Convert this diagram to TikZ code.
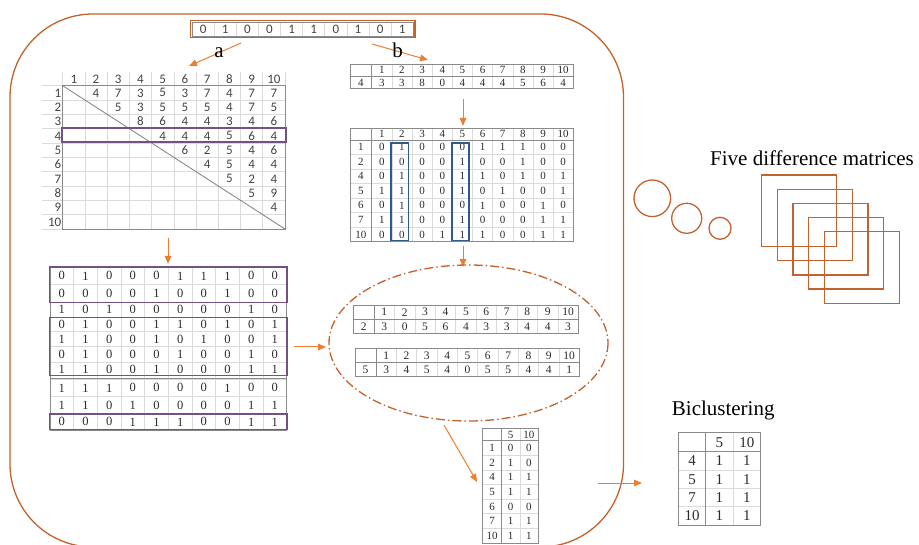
\documentclass[tikz,border=0pt]{standalone}
\usepackage{fontspec}
\setmainfont{Liberation Serif}
\newfontfamily\xlsfont{Carlito}
\usetikzlibrary{arrows.meta}

\definecolor{loopbrown}{HTML}{C2622D}
\definecolor{arroworange}{HTML}{ED7D31}
\definecolor{rowpurple}{HTML}{735283}
\definecolor{colblue}{HTML}{2F5A8F}
\definecolor{gridlight}{HTML}{DADADA}
\definecolor{framegray}{HTML}{8A8A8A}
\definecolor{digitdark}{HTML}{2B2B2B}
\definecolor{xlsgray}{HTML}{444444}

% table with a label column and a header row
% #1 left, #2 label-column edge, #3 right, #4 columns, #5 top, #6 header edge, #7 bottom, #8 rows
\newcommand{\labtable}[8]{%
  \pgfmathsetmacro\tcw{(#3-#2)/#4}%
  \pgfmathsetmacro\trh{(#7-#6)/#8}%
  \foreach \k in {1,...,#4} {\draw[grid] ({#2+\k*\tcw},#5) -- ({#2+\k*\tcw},#7);}%
  \foreach \k in {1,...,#8} {\draw[grid] (#1,{#6+\k*\trh}) -- (#3,{#6+\k*\trh});}%
  \draw[frame] (#2,#5) -- (#2,#7);%
  \draw[frame] (#1,#6) -- (#3,#6);%
  \draw[frame] (#1,#5) rectangle (#3,#7);%
}
% one row of cell entries: #1 name prefix, #2 style, #3 first centre x, #4 step, #5 y, #6 entries
\newcommand{\fillrow}[6]{%
  \edef\rowlist{#6}%
  \foreach \cellv [count=\cellk] in \rowlist {%
    \node[#2] (#1-\cellk) at ({#3+(\cellk-1)*#4},{#5}) {\cellv};}%
}

\begin{document}
\begin{tikzpicture}[x=1pt,y=-1pt,
  grid/.style={draw=gridlight, line width=0.6pt},
  frame/.style={draw=framegray, line width=0.9pt},
  xls/.style={inner sep=0pt, text=xlsgray, font=\xlsfont\fontsize{13}{15}\selectfont},
  vec/.style={inner sep=0pt, text=xlsgray, font=\xlsfont\fontsize{13}{15}\selectfont},
  serB/.style={inner sep=0pt, text=digitdark, font=\fontsize{11}{13}\selectfont},
  serC/.style={inner sep=0pt, text=digitdark, font=\fontsize{12.5}{14}\selectfont},
  serE/.style={inner sep=0pt, text=digitdark, font=\fontsize{11.5}{13}\selectfont},
  serF/.style={inner sep=0pt, text=digitdark, font=\fontsize{11}{13}\selectfont},
  serG/.style={inner sep=0pt, text=digitdark, font=\fontsize{15}{17}\selectfont},
  lab/.style={inner sep=0pt, text=black, font=\fontsize{21}{25}\selectfont},
  arr/.style={draw=arroworange, line width=1pt, -{Triangle[length=8pt,width=6.5pt]}},
  loop/.style={draw=loopbrown, line width=1.3pt},
  rowbox/.style={draw=rowpurple, line width=1.6pt},
  colbox/.style={draw=colblue, line width=1.6pt}]

\useasboundingbox (0,0) rectangle (919,545);
\clip (0,0) rectangle (919,545);
\fill[white] (0,0) rectangle (919,545);

% enclosing rounded frame
\draw[loop, rounded corners=83pt] (10,14) rectangle (623.5,547);

% binary vector on top
\foreach \k in {1,...,9} {\draw[grid] ({192+\k*22.13},22) -- ({192+\k*22.13},36);}
\draw[draw=framegray, line width=0.6pt] (192,22) rectangle (413.3,36);
\draw[loop, line width=1.4pt] (190.5,20.5) rectangle (414.8,37.5);
\fillrow{V}{vec}{203.07}{22.13}{29}{0,1,0,0,1,1,0,1,0,1}

% branch arrows a and b
\coordinate (aS) at (241,43);
\coordinate (aE) at (189,66);
\draw[arr] (aS) -- (aE);
\node[lab] (la) at (219,53) {a};
\coordinate (bS) at (372,44);
\coordinate (bE) at (428,60);
\draw[arr] (bS) -- (bE);
\node[lab] (lb) at (397.7,50.5) {b};

% triangular distance table
\foreach \k in {0,...,10} {\draw[grid] ({62.7+\k*22.23},72) -- ({62.7+\k*22.23},229);}
\foreach \k in {0,...,10} {\draw[grid] (42,{85.7+\k*14.33}) -- (285,{85.7+\k*14.33});}
\draw[frame] (62.7,85.7) rectangle (285,229);
\draw[draw=gray, line width=0.8pt] (62.7,85.7) -- (285,229);
\fillrow{A-h}{xls}{73.8}{22.23}{79}{1,2,3,4,5,6,7,8,9,10}
\foreach \r in {1,...,10} {\node[xls, anchor=east] (A-r\r) at (61.5,{85.7+(\r-0.5)*14.33}) {\r};}
\foreach \r/\vals in {1/{4,7,3,5,3,7,4,7,7},2/{5,3,5,5,5,4,7,5},3/{8,6,4,4,3,4,6},
  4/{4,4,4,5,6,4},5/{6,2,5,4,6},6/{4,5,4,4},7/{5,2,4},8/{5,9},9/{4}} {
  \fillrow{A-\r}{xls}{73.8+\r*22.23}{22.23}{85.7+(\r-0.5)*14.33}{\vals}
}
\draw[rowbox] (61.7,128.3) rectangle (286,142.3);

% arrow down to the binary matrix
\coordinate (acS) at (168,238);
\coordinate (acE) at (168,264);
\draw[arr] (acS) -- (acE);

% binary matrix
\foreach \k in {1,...,9} {\draw[grid] ({50+\k*23.67},267.3) -- ({50+\k*23.67},430);}
\foreach \yy in {284.5,302,317,331.7,346.8,362,379,396.7,413.8} {\draw[grid] (50,\yy) -- (286.7,\yy);}
\draw[frame] (50,267.3) rectangle (286.7,430);
\draw[frame] (50,378) -- (286.7,378);
\foreach \yy/\vals [count=\rr] in {275.9/{0,1,0,0,0,1,1,1,0,0},293.3/{0,0,0,0,1,0,0,1,0,0},
  309.5/{1,0,1,0,0,0,0,0,1,0},324.3/{0,1,0,0,1,1,0,1,0,1},339.3/{1,1,0,0,1,0,1,0,0,1},
  354.4/{0,1,0,0,0,1,0,0,1,0},369.8/{1,1,0,0,1,0,0,0,1,1},387.9/{1,1,1,0,0,0,0,1,0,0},
  405.2/{1,1,0,1,0,0,0,0,1,1},421.9/{0,0,0,1,1,1,0,0,1,1}} {
  \fillrow{C-\rr}{serC}{61.83}{23.67}{\yy}{\vals}
}
\draw[rowbox] (49.5,267.3) rectangle (287,302.4);
\draw[rowbox] (49.5,317.5) rectangle (287,375.5);
\draw[rowbox] (49.5,414) rectangle (287,429.5);

% arrow into the ellipse
\coordinate (ceS) at (294,347);
\coordinate (ceE) at (326,347);
\draw[arr] (ceS) -- (ceE);

% row 4 of the distance table
\labtable{350}{371.7}{573.3}{10}{64}{76.5}{88.5}{1}
\fillrow{B1-h}{serB}{381.78}{20.16}{70.3}{1,2,3,4,5,6,7,8,9,10}
\node[serB] (B1-r) at (360.85,82.5) {4};
\fillrow{B1-v}{serB}{381.78}{20.16}{82.5}{3,3,8,0,4,4,4,5,6,4}

\coordinate (bbS) at (463,99);
\coordinate (bbE) at (463,126);
\draw[arr] (bbS) -- (bbE);

% selected rows of the binary matrix
\labtable{350}{371.7}{573.3}{10}{128.3}{140}{241.7}{7}
\fillrow{B2-h}{serB}{381.78}{20.16}{134.2}{1,2,3,4,5,6,7,8,9,10}
\foreach \lab/\vals [count=\rr] in {1/{0,1,0,0,0,1,1,1,0,0},2/{0,0,0,0,1,0,0,1,0,0},
  4/{0,1,0,0,1,1,0,1,0,1},5/{1,1,0,0,1,0,1,0,0,1},6/{0,1,0,0,0,1,0,0,1,0},
  7/{1,1,0,0,1,0,0,0,1,1},10/{0,0,0,1,1,1,0,0,1,1}} {
  \node[serB] (B2-r\lab) at (360.85,{140+(\rr-0.5)*14.53}) {\lab};
  \fillrow{B2-\lab}{serB}{381.78}{20.16}{140+(\rr-0.5)*14.53}{\vals}
}
\draw[colbox] (390.7,143.3) rectangle (408.3,240.7);
\draw[colbox] (451.7,143.3) rectangle (469,240.7);

\coordinate (beS) at (463,246);
\coordinate (beE) at (463,267);
\draw[arr] (beS) -- (beE);

% dash-dotted ellipse with the two column rows
\draw[loop, dash pattern=on 9pt off 3pt on 1.5pt off 3pt] (468.5,343) ellipse [x radius=139.5, y radius=78];
\labtable{353.3}{374}{578.3}{10}{305}{319.3}{333.3}{1}
\fillrow{E1-h}{serE}{384.2}{20.43}{312.2}{1,2,3,4,5,6,7,8,9,10}
\node[serE] (E1-r) at (363.7,326.3) {2};
\fillrow{E1-v}{serE}{384.2}{20.43}{326.3}{3,0,5,6,4,3,3,4,4,3}
\labtable{355}{376}{579.3}{10}{348.3}{362.7}{376.7}{1}
\fillrow{E2-h}{serE}{386.2}{20.33}{355.5}{1,2,3,4,5,6,7,8,9,10}
\node[serE] (E2-r) at (365.5,369.7) {5};
\fillrow{E2-v}{serE}{386.2}{20.33}{369.7}{3,4,5,4,0,5,5,4,4,1}

\coordinate (efS) at (444,425);
\coordinate (efE) at (477,482);
\draw[arr] (efS) -- (efE);

% columns 5 and 10
\labtable{482.7}{501.7}{538.3}{2}{428.3}{440.7}{543}{7}
\fillrow{F-h}{serF}{510.6}{18.3}{434.5}{5,10}
\foreach \lab/\vals [count=\rr] in {1/{0,0},2/{1,0},4/{1,1},5/{1,1},6/{0,0},7/{1,1},10/{1,1}} {
  \node[serF] (F-r\lab) at (492.2,{440.7+(\rr-0.5)*14.61}) {\lab};
  \fillrow{F-\lab}{serF}{510.6}{18.3}{440.7+(\rr-0.5)*14.61}{\vals}
}

\coordinate (fgS) at (598,483);
\coordinate (fgE) at (642,483);
\draw[arr] (fgS) -- (fgE);

% thought bubbles and stacked matrices
\draw[loop] (652.3,198.3) circle [radius=18.3];
\draw[loop] (686.7,218.3) circle [radius=15];
\draw[loop] (720,228.3) circle [radius=11];
\foreach \k in {0,...,4} {\draw[loop] ({761.7+\k*15.65},{175+\k*14.2}) rectangle +(75,71.5);}
\node[lab, anchor=base west] (fdm) at (710,166) {Five difference matrices};

% bicluster result
\node[lab, anchor=base west] (bic) at (671.7,416) {Biclustering};
\labtable{678.3}{705.7}{760.7}{2}{432.7}{451.7}{525}{4}
\fillrow{G-h}{serG}{719.45}{27.5}{442.2}{5,10}
\foreach \lab [count=\rr] in {4,5,7,10} {
  \node[serG] (G-r\lab) at (692,{451.7+(\rr-0.5)*18.33}) {\lab};
  \fillrow{G-\lab}{serG}{719.45}{27.5}{451.7+(\rr-0.5)*18.33}{1,1}
}
\end{tikzpicture}
\end{document}
